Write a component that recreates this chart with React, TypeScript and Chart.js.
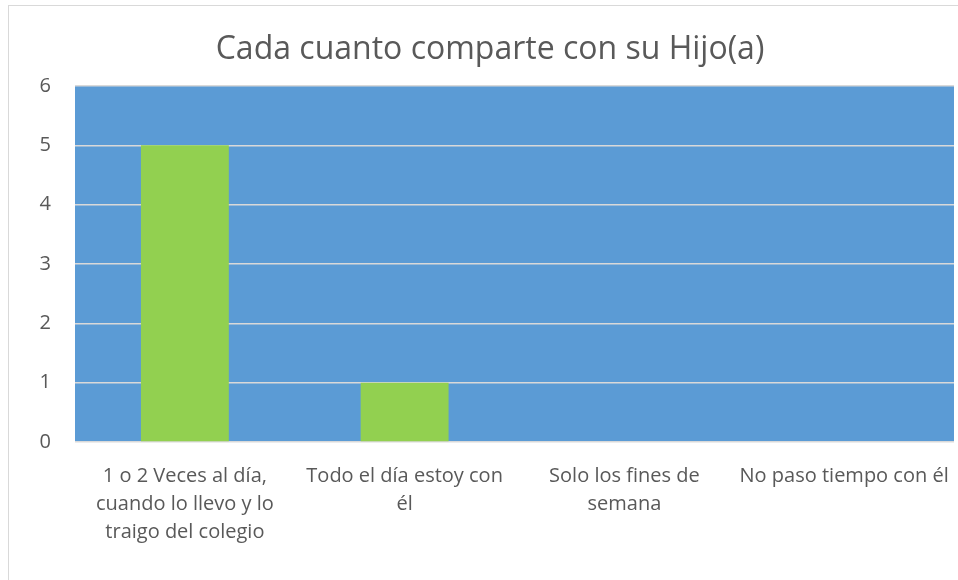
import React, { useEffect, useRef } from "react";
import { Chart, registerables } from "chart.js";

Chart.register(...registerables);

const TITLE = "Cada cuanto comparte con su Hijo(a)";
const CATEGORIES: (string | string[])[] = [
  ["1 o 2 Veces al día,", "cuando lo llevo y lo", "traigo del colegio"],
  ["Todo el día estoy con", "él"],
  ["Solo los fines de", "semana"],
  "No paso tiempo con él",
];
const VALUES = [5, 1, 0, 0];
const Y_MIN = 0;
const Y_MAX = 6;
const Y_STEP = 1;

const FONT = "'Open Sans', 'DejaVu Sans', sans-serif";

const plotBg = {
  id: "plotBg",
  beforeDraw(chart: any) {
    const { ctx, chartArea } = chart;
    if (!chartArea) return;
    ctx.save();
    ctx.fillStyle = "#5B9BD5";
    ctx.fillRect(chartArea.left, chartArea.top, chartArea.right - chartArea.left, chartArea.bottom - chartArea.top);
    ctx.restore();
  },
};

const titlePlugin = {
  id: "customTitle",
  afterDraw(chart: any) {
    const { ctx } = chart;
    ctx.save();
    ctx.fillStyle = "#595959";
    ctx.font = `32px ${FONT}`;
    ctx.textAlign = "center";
    ctx.textBaseline = "middle";
    ctx.fillText(TITLE, 490, 50);
    ctx.restore();
  },
};

export default function App() {
  const ref = useRef<HTMLCanvasElement | null>(null);
  useEffect(() => {
    if (!ref.current) return;
    const chart = new Chart(ref.current, {
      type: "bar",
      data: {
        labels: CATEGORIES,
        datasets: [
          {
            data: VALUES,
            backgroundColor: "#92D050",
            borderWidth: 0,
            categoryPercentage: 1,
            barPercentage: 0.4,
          },
        ],
      },
      plugins: [plotBg, titlePlugin],
      options: {
        animation: false,
        responsive: false,
        maintainAspectRatio: false,
        layout: { padding: { left: 0, right: 4, top: 86, bottom: 0 } },
        plugins: {
          legend: { display: false },
          tooltip: { enabled: false },
          title: { display: false },
        },
        scales: {
          x: {
            grid: { display: false, drawTicks: false },
            border: { display: false },
            ticks: {
              color: "#595959",
              font: { family: FONT, size: 20, lineHeight: 1.4 },
              padding: 20,
              maxRotation: 0,
              minRotation: 0,
              autoSkip: false,
            },
            afterFit(scale: any) {
              scale.height = 580 - 442;
              scale.paddingLeft = 0;
              scale.paddingRight = 0;
            },
          },
          y: {
            min: Y_MIN,
            max: Y_MAX,
            grid: { color: "#D9D9D9", lineWidth: 1.5, drawTicks: false },
            border: { display: false },
            ticks: {
              stepSize: Y_STEP,
              color: "#595959",
              font: { family: FONT, size: 20 },
              padding: 24,
            },
            afterFit(scale: any) {
              scale.width = 75;
              scale.paddingTop = 0;
              scale.paddingBottom = 0;
            },
          },
        },
      },
    });
    return () => chart.destroy();
  }, []);

  return (
    <div style={{ position: "fixed", left: 0, top: 0, width: 958, height: 580, background: "#fff", overflow: "hidden" }}>
      <div
        style={{
          position: "absolute",
          left: 8,
          top: 5,
          width: 1000,
          height: 700,
          border: "1px solid #D9D9D9",
        }}
      />
      <canvas ref={ref} width={958} height={580} style={{ position: "absolute", left: 0, top: 0 }} />
    </div>
  );
}
